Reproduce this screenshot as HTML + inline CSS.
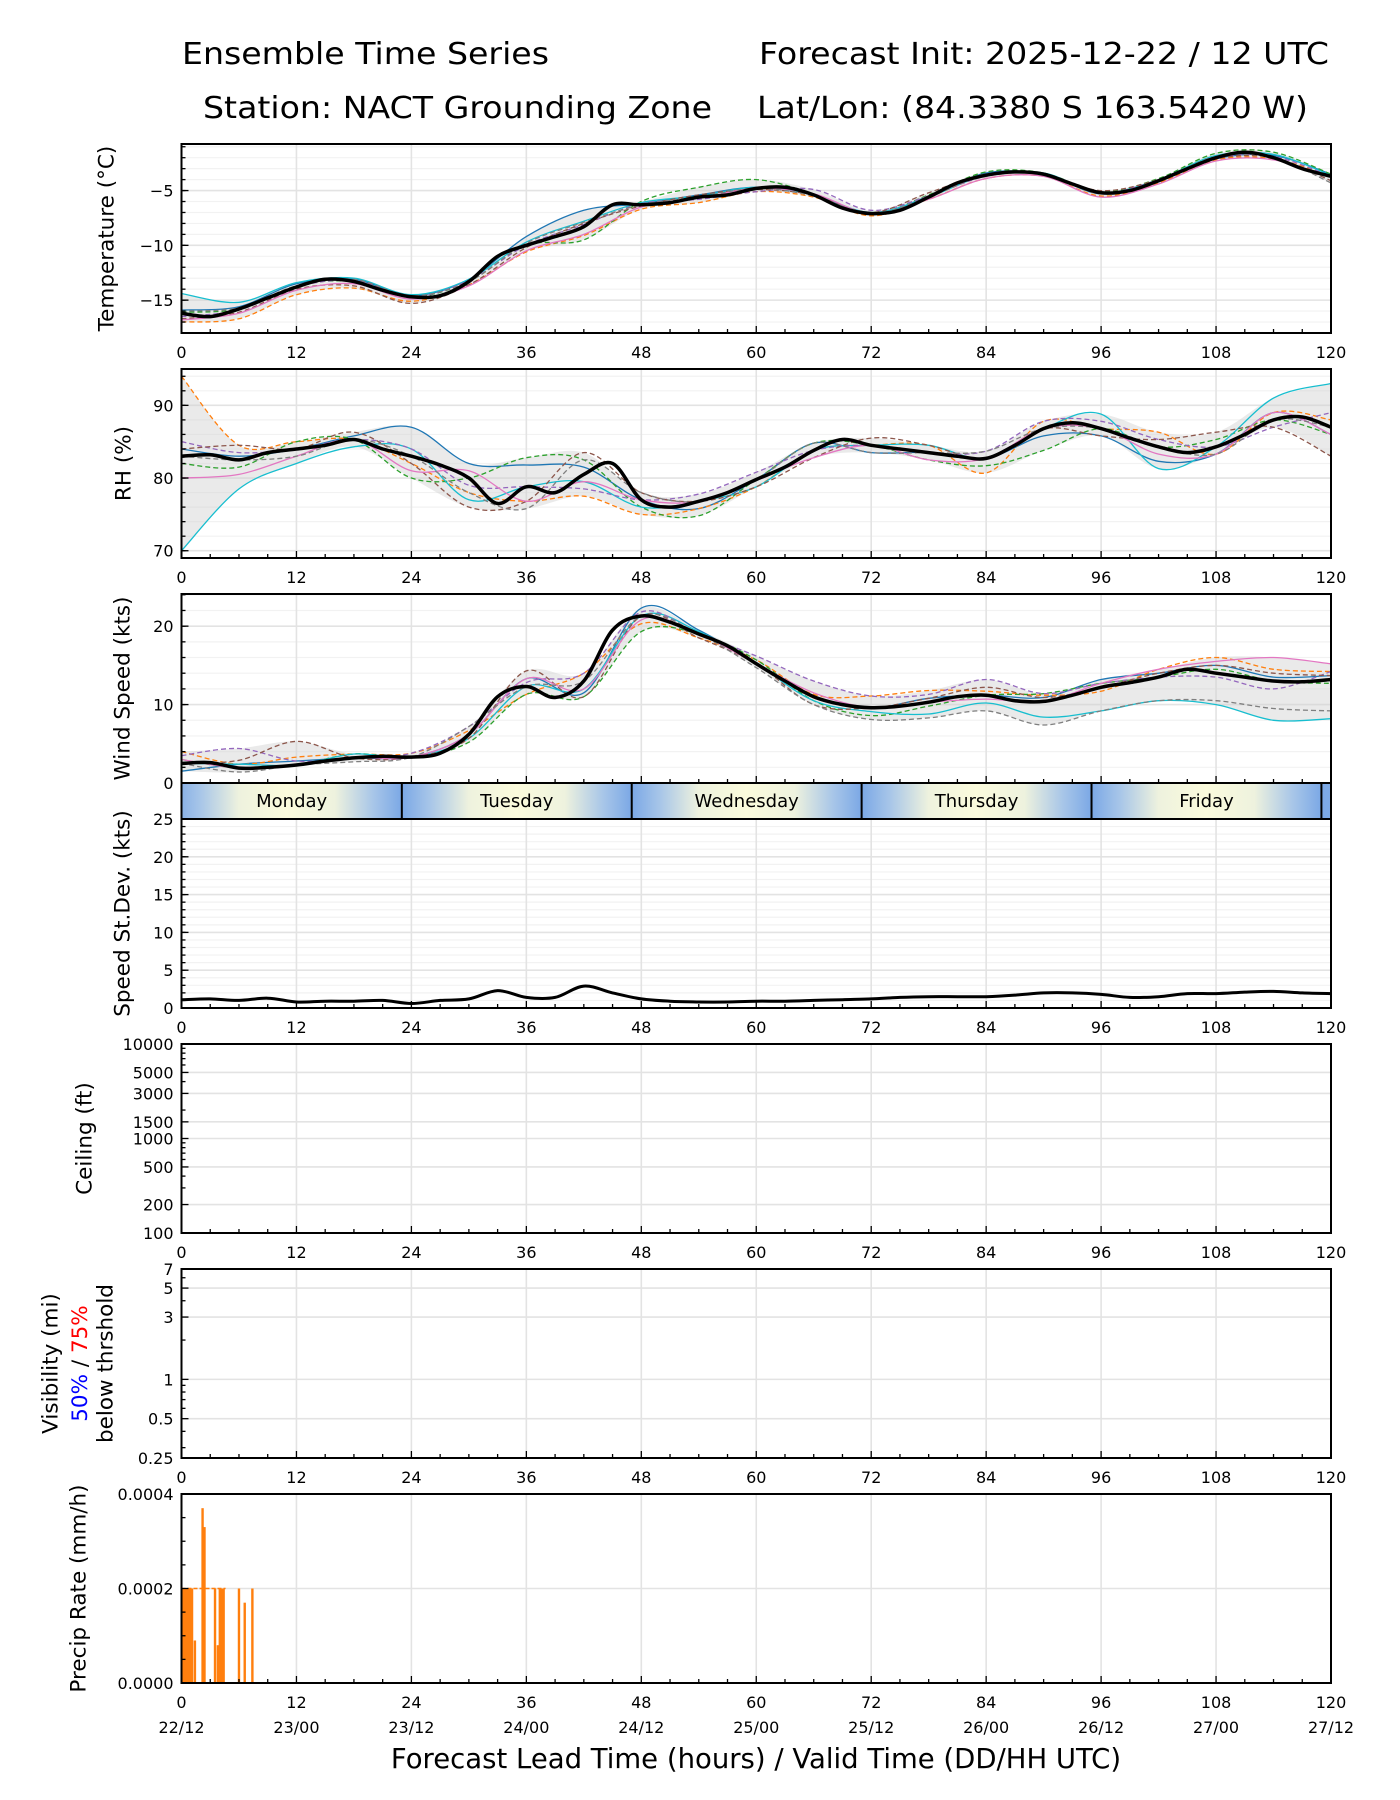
<!DOCTYPE html>
<html><head><meta charset="utf-8"><title>Ensemble Time Series</title>
<style>
html,body{margin:0;padding:0;background:#fff;}
svg{display:block;font-family:"DejaVu Sans","Liberation Sans",sans-serif;}
</style></head>
<body>
<svg id="chart" width="1400" height="1800" viewBox="0 0 1400 1800" xmlns="http://www.w3.org/2000/svg">
<text x="182" y="64" font-size="30" textLength="367" lengthAdjust="spacingAndGlyphs">Ensemble Time Series</text>
<text x="759" y="64" font-size="30" textLength="570" lengthAdjust="spacingAndGlyphs">Forecast Init: 2025-12-22 / 12 UTC</text>
<text x="203" y="118" font-size="30" textLength="509" lengthAdjust="spacingAndGlyphs">Station: NACT Grounding Zone</text>
<text x="757" y="118" font-size="30" textLength="551" lengthAdjust="spacingAndGlyphs">Lat/Lon: (84.3380 S 163.5420 W)</text>
<text x="756" y="1768" font-size="27.5" text-anchor="middle">Forecast Lead Time (hours) / Valid Time (DD/HH UTC)</text>
</svg>
<script>
// ---------- data ----------
const hours3 = [0,3,6,9,12,15,18,21,24,27,30,33,36,39,42,45,48,51,54,57,60,63,66,69,72,75,78,81,84,87,90,93,96,99,102,105,108,111,114,117,120];
const hours6 = [0,6,12,18,24,30,36,42,48,54,60,66,72,78,84,90,96,102,108,114,120];
const tempMean = [-16.2,-16.5,-15.8,-14.8,-13.8,-13.1,-13.3,-14.1,-14.7,-14.6,-13.3,-11,-10,-9.2,-8.3,-6.3,-6.3,-6.1,-5.6,-5.4,-4.8,-4.7,-5.4,-6.6,-7.1,-6.8,-5.6,-4.3,-3.6,-3.3,-3.5,-4.4,-5.2,-5.0,-4.1,-3.0,-2.0,-1.5,-2.0,-3.0,-3.7];
const rhMean = [83,83.2,82.5,83.5,84,84.5,85.3,84,83,81.8,80,76.5,78.8,78,80.5,82,77,76,76.8,78,79.8,81.5,83.8,85.3,84.5,84,83.5,83,82.7,84.5,86.8,87.6,86.8,85.5,84.3,83.5,84.3,86,88,88.4,87];
const windMean = [2.5,2.6,1.9,2.0,2.3,2.8,3.2,3.4,3.3,3.8,6.2,11,12.3,10.9,13,19.5,21.3,20.5,19,17.5,15.2,13,11,10,9.6,9.8,10.3,11,11.2,10.5,10.4,11.2,12.2,12.8,13.5,14.5,14,13.5,13,12.9,13.2];
const sdMean = [1.1,1.2,1.0,1.3,0.8,0.9,0.9,1.0,0.6,1.0,1.2,2.3,1.4,1.4,2.9,2.0,1.2,0.9,0.8,0.8,0.9,0.9,1.0,1.1,1.2,1.4,1.5,1.5,1.5,1.7,2.0,2.0,1.8,1.4,1.5,1.9,1.9,2.1,2.2,2.0,1.9];
const memberColors = ["#1f77b4","#ff7f0e","#2ca02c","#17becf","#9467bd","#8c564b","#e377c2","#7f7f7f"];
const tempDev1 = [0.3,0.2,0.3,0.2,0.1,0.2,0.8,1.5,0.1,0.2,0.1,0.0,-0.1,0.1,0.2,0.0,-0.1,0,-0.1,0.2,0.2];
const tempDev2 = [-0.8,-0.9,-0.7,-0.6,-0.4,-0.3,-0.6,-0.8,-0.4,-0.5,-0.3,-0.2,-0.2,-0.2,-0.3,-0.2,-0.3,-0.2,-0.2,-0.1,0];
const tempDev3 = [0.1,0,0.1,0,0,0,0,-1.2,0.3,0.9,0.8,0.1,0,0.2,0.3,0.1,0.1,0.2,0.4,0.5,0.2];
const tempDev4 = [1.8,0.6,0.4,0.3,0.2,0.2,0.3,0.5,0.2,0.1,0.1,0,0.1,0,0,0.1,0,0.1,0.2,0.3,0.1];
const tempDev5 = [-0.3,-0.1,0,0.1,0,0.1,0,0.2,0.1,-0.2,-0.3,0.5,0.3,0.1,-0.1,0,0,0.1,0,0.1,0];
const tempDev6 = [-0.5,-0.3,-0.2,-0.4,-0.6,-0.3,-0.2,0.3,-0.1,0.2,-0.1,0,0.1,0.4,0.1,0,0.2,0.1,-0.1,0,-0.4];
const tempDev7 = [-0.6,-0.4,-0.3,-0.2,-0.2,-0.4,-0.5,-0.7,-0.2,-0.1,0,0.1,0,-0.2,-0.3,-0.2,-0.4,-0.3,-0.3,-0.2,-0.1];
const tempDev8 = [0.2,0.1,0.1,0.2,0.1,0,0.2,0.4,0,0,0,-0.1,0,0,0,0,-0.1,0,0.1,0,-0.6];
const rhDev1 = [1,0.5,0,0.5,4,2,3,1,0,-1,0,1,-1,0,0,-1,-1,-2,-1,1,-1];
const rhDev2 = [11,2,1,0,-1,-2,-2,-3,-2,-1,-1,0,0,1,-2,1,0,2,-1,1,1];
const rhDev3 = [-1,-1,1,0,-3,0,4,2,-1,-2,0,1,0,-1,-1,-3,0,0,1,0,-1];
const rhDev4 = [-13,-4,-2,-1,1,-3,0,-1,-1,0,-1,0,0,1,0,0,2,-3,0,3,6];
const rhDev5 = [2,1,0,0,1,-1,0,-2,0,1,1,0,0,0,1,1,1,1,0,-1,2];
const rhDev6 = [1,2,0,1,-1,-4,-2,3,1,0,-1,-1,1,1,0,0,-1,1,2,-1,-4];
const rhDev7 = [-3,-2,-1,0,-2,1,-2,-1,0,0,0,-1,0,-1,0,0,0,-1,-1,1,-1];
const rhDev8 = [0,0,-1,0,0,-2,-3,2,1,0,0,1,-1,0,1,0,0,0,-1,0,0];
const windDev1 = [-1,0.5,0.5,0,0,0,1,-1.5,1,0.5,0,0,0,0.5,0,0.5,1,0.5,1,0.5,0.5];
const windDev2 = [1.5,0.5,1,0.5,0.5,0.5,-1,1,-1,-0.5,0.5,0.3,1.5,1.5,0.5,0.8,-0.5,1,2,1.5,1];
const windDev3 = [0.5,0,0,0.5,0,-1,-1,-2,-2,0,0.5,-0.5,-1,-0.5,0,1,0.5,0,0.5,0,-0.5];
const windDev4 = [0,0.5,0,0.5,0,-0.5,0,-1,0,0.3,0,-0.5,-0.5,-1.5,-1,-2,-3,-3,-4,-5,-5];
const windDev5 = [1,2.5,0.5,0,0.5,1,0.5,1,0.5,0,1,2,1.5,1,2,1,0.5,0,-0.5,-1,1];
const windDev6 = [0,1,3,0,0,-0.5,2,-2,0,-0.5,0,-1,0,0.5,1,0.5,0,0.5,1,1,0.5];
const windDev7 = [0.5,0,0,0,0,0,1,-1,-0.5,0,0,0.5,0,0,-0.5,0,0.5,1,1.5,3,2];
const windDev8 = [0,-0.5,0,-0.5,0,1,0,0,0,0,-0.5,-1,-1.5,-2,-2,-3,-3,-3,-3.5,-3.5,-4];
const precipHours = [0.1,0.3,0.5,0.7,0.9,1.1,1.4,2.2,2.4,3.5,3.8,4.0,4.2,4.4,6.0,6.6,7.4];
const precipVals = [0.0002,0.0002,0.0002,0.0002,0.0002,0.0002,0.00009,0.00037,0.00033,0.0002,0.00008,0.0002,0.0002,0.0002,0.0002,0.00017,0.0002];
const xTicks = [0,12,24,36,48,60,72,84,96,108,120];
const dateLabels = ["22/12","23/00","23/12","24/00","24/12","25/00","25/12","26/00","26/12","27/00","27/12"];
const dayNames = ["Monday","Tuesday","Wednesday","Thursday","Friday"];
const dayStarts = [0,23,47,71,95];
const dayEnds = [23,47,71,95,119];

// ---------- helpers ----------
const NS="http://www.w3.org/2000/svg";
const svg=document.getElementById("chart");
const X0=181.5, X1=1331;
function xs(h){return X0+(h/120)*(X1-X0);}
function el(tag,attrs,parent){const e=document.createElementNS(NS,tag);for(const k in attrs)e.setAttribute(k,attrs[k]);(parent||svg).appendChild(e);return e;}
function txt(s,attrs,parent){const e=el("text",attrs,parent);e.textContent=s;return e;}
function smooth(pts){
  let d="M"+pts[0][0].toFixed(1)+","+pts[0][1].toFixed(1);
  for(let i=0;i<pts.length-1;i++){
    const p0=pts[Math.max(0,i-1)],p1=pts[i],p2=pts[i+1],p3=pts[Math.min(pts.length-1,i+2)];
    const c1=[p1[0]+(p2[0]-p0[0])/6,p1[1]+(p2[1]-p0[1])/6];
    const c2=[p2[0]-(p3[0]-p1[0])/6,p2[1]-(p3[1]-p1[1])/6];
    d+="C"+c1[0].toFixed(1)+","+c1[1].toFixed(1)+" "+c2[0].toFixed(1)+","+c2[1].toFixed(1)+" "+p2[0].toFixed(1)+","+p2[1].toFixed(1);
  }
  return d;
}
let clipId=0;
function panel(cfg){
  const top=cfg.top, H=189, bot=top+H;
  const g=el("g",{});
  
  
  const ys = cfg.log ? (v)=>bot-(Math.log(v)-Math.log(cfg.ymin))/(Math.log(cfg.ymax)-Math.log(cfg.ymin))*H
                     : (v)=>bot-(v-cfg.ymin)/(cfg.ymax-cfg.ymin)*H;
  (cfg.minor||[]).forEach(v=>{ if(v>cfg.ymin&&v<cfg.ymax){
    const l=el("line",{x1:X0,x2:X1,y1:ys(v),y2:ys(v),stroke:"#f2f2f2","stroke-width":1.2},g);
    
    
  }});
  cfg.yTicks.forEach(v=>{
    const l=el("line",{x1:X0,x2:X1,y1:ys(v),y2:ys(v),stroke:"#e3e3e3","stroke-width":1.6},g);
    
    
  });
  xTicks.forEach(h=>{
    const l=el("line",{x1:xs(h),x2:xs(h),y1:top,y2:bot,stroke:"#e3e3e3","stroke-width":1.6},g);
    
    
  });
  const cid="clip"+(clipId++);
  const cp=el("clipPath",{id:cid},g); el("rect",{x:X0,y:top,width:X1-X0,height:H},cp);
  const plot=el("g",{"clip-path":"url(#"+cid+")"},g);
  
  
  if(cfg.draw) cfg.draw(plot,ys);
  const fr=el("rect",{x:X0,y:top,width:X1-X0,height:H,fill:"none",stroke:"#000","stroke-width":2},g);
  
  
  for(let h=0;h<=120;h+=3){
    const major=h%12===0;
    el("line",{x1:xs(h),x2:xs(h),y1:bot,y2:bot-(major?7:4),stroke:"#000","stroke-width":1.3},g);
  }
  if(!cfg.noXLabels) xTicks.forEach((h,i)=>{
    const t=txt(String(h),{x:xs(h),y:bot+25,"font-size":16,"text-anchor":"middle"},g);
    
    
    if(cfg.dates){
      const d=txt(dateLabels[i],{x:xs(h),y:bot+50,"font-size":16,"text-anchor":"middle"},g);
      
      
    }
  });
  (cfg.minorTicks||cfg.minor||[]).forEach(v=>{ if(v>cfg.ymin&&v<cfg.ymax) el("line",{x1:X0,x2:X0+4,y1:ys(v),y2:ys(v),stroke:"#000","stroke-width":1.3},g);});
  cfg.yTicks.forEach((v,i)=>{
    el("line",{x1:X0,x2:X0+7,y1:ys(v),y2:ys(v),stroke:"#000","stroke-width":1.3},g);
    const t=txt(cfg.yLabels[i],{x:X0-8,y:ys(v)+6,"font-size":16,"text-anchor":"end"},g);
    
    
  });
  if(cfg.ylabel){
    const cy=top+H/2;
    const t=txt(cfg.ylabel,{x:cfg.lx,y:cy,"font-size":21.5,"text-anchor":"middle","dominant-baseline":"central",transform:"rotate(-90 "+cfg.lx+" "+cy+")"},g);
    
    
  }
  return {g,ys,top,bot};
}
function drawMembers(plot,ys,mean,devs){
  devs.forEach((dv,m)=>{
    const pts=hours6.map((h,i)=>[xs(h),ys(mean[i*2]+dv[i])]);
    const p=el("path",{d:smooth(pts),fill:"none",stroke:memberColors[m],"stroke-width":1.3,"stroke-dasharray":(m%3===0)?"none":"5,3"},plot);
    
    
  });
}
function drawMean(plot,ys,mean){
  const pts=hours3.map((h,i)=>[xs(h),ys(mean[i])]);
  const p=el("path",{d:smooth(pts),fill:"none",stroke:"#000","stroke-width":3.5,"stroke-linejoin":"round"},plot);
  
  
}
function drawBand(plot,ys,mean,devs){
  const up=hours6.map((h,i)=>[xs(h),ys(mean[i*2]+Math.max(...devs.map(d=>d[i])))]);
  const lo=hours6.map((h,i)=>[xs(h),ys(mean[i*2]+Math.min(...devs.map(d=>d[i])))]).reverse();
  const d=smooth(up)+"L"+smooth(lo).slice(1)+"Z";
  const p=el("path",{d:d,fill:"#d0d0d0","fill-opacity":0.45,stroke:"none"},plot);
  
  
}
function range(a,b,s){const r=[];for(let v=a;v<=b+1e-9;v+=s)r.push(+v.toFixed(4));return r;}

const tempDevs=[tempDev1,tempDev2,tempDev3,tempDev4,tempDev5,tempDev6,tempDev7,tempDev8];
const rhDevs=[rhDev1,rhDev2,rhDev3,rhDev4,rhDev5,rhDev6,rhDev7,rhDev8];
const windDevs=[windDev1,windDev2,windDev3,windDev4,windDev5,windDev6,windDev7,windDev8];

panel({name:"temperature",top:144,ymin:-18,ymax:-0.75,yTicks:[-15,-10,-5],yLabels:["\u221215","\u221210","\u22125"],minor:range(-18,-1,1),ylabel:"Temperature (\u00b0C)",lx:107,
  draw:(p,ys)=>{drawBand(p,ys,tempMean,tempDevs);drawMembers(p,ys,tempMean,tempDevs);drawMean(p,ys,tempMean);}});
panel({name:"rh",top:369,ymin:69,ymax:95,yTicks:[70,80,90],yLabels:["70","80","90"],minor:range(70,94,2),ylabel:"RH (%)",lx:124,
  draw:(p,ys)=>{drawBand(p,ys,rhMean,rhDevs);drawMembers(p,ys,rhMean,rhDevs);drawMean(p,ys,rhMean);}});
panel({name:"wind-speed",top:594,ymin:0,ymax:24.1,yTicks:[0,10,20],yLabels:["0","10","20"],minor:range(2,24,2),ylabel:"Wind Speed (kts)",lx:123,noXLabels:true,
  draw:(p,ys)=>{drawBand(p,ys,windMean,windDevs);drawMembers(p,ys,windMean,windDevs);drawMean(p,ys,windMean);}});
panel({name:"speed-stdev",top:819,ymin:0,ymax:25,yTicks:[0,5,10,15,20,25],yLabels:["0","5","10","15","20","25"],minor:range(1,24,1),ylabel:"Speed St.Dev. (kts)",lx:123,
  draw:(p,ys)=>{const pts=hours3.map((h,i)=>[xs(h),ys(sdMean[i])]);
    const l=el("path",{d:smooth(pts),fill:"none",stroke:"#000","stroke-width":3,"stroke-linejoin":"round"},p);
    
    }});
panel({name:"ceiling",top:1044,ymin:100,ymax:10000,log:true,yTicks:[100,200,500,1000,1500,3000,5000,10000],yLabels:["100","200","500","1000","1500","3000","5000","10000"],minor:[],minorTicks:[300,400,600,700,800,900,2000,4000,6000,7000,8000,9000],ylabel:"Ceiling (ft)",lx:85});
panel({name:"visibility",top:1269,ymin:0.25,ymax:7,log:true,yTicks:[0.25,0.5,1,3,5,7],yLabels:["0.25","0.5","1","3","5","7"],minor:[],minorTicks:[0.3,0.4,0.6,0.7,0.8,0.9,2,4,6]});
panel({name:"precip-rate",top:1494,ymin:0,ymax:0.0004,yTicks:[0,0.0002,0.0004],yLabels:["0.0000","0.0002","0.0004"],minor:[],minorTicks:[0.00005,0.0001,0.00015,0.00025,0.0003,0.00035],ylabel:"Precip Rate (mm/h)",lx:79,dates:true,
  draw:(p,ys)=>{
    precipHours.forEach((h,i)=>{
      const r=el("rect",{x:xs(h)-1.2,y:ys(precipVals[i]),width:2.4,height:ys(0)-ys(precipVals[i]),fill:"#ff7f0e"},p);
      
      
    });
    const b=el("rect",{x:xs(0),y:ys(0.0002),width:xs(1.2)-xs(0),height:ys(0)-ys(0.0002),fill:"#ff7f0e"},p);
    
    
    const ln=el("line",{x1:xs(0),x2:xs(4.6),y1:ys(0.0002),y2:ys(0.0002),stroke:"#ff7f0e","stroke-width":1.5,"stroke-dasharray":"4,2"},p);
    
    
  }});
(function(){
  const cy=1269+94.5;
  const a=txt("Visibility (mi)",{x:51,y:cy,"font-size":21.5,"text-anchor":"middle","dominant-baseline":"central",transform:"rotate(-90 51 "+cy+")"});
  
  
  const b=el("text",{x:80,y:cy,"font-size":21.5,"text-anchor":"middle","dominant-baseline":"central",transform:"rotate(-90 80 "+cy+")"});
  
  
  const s1=el("tspan",{fill:"#0000ff"},b); s1.textContent="50%";
  const s2=el("tspan",{fill:"#000"},b); s2.textContent=" / ";
  const s3=el("tspan",{fill:"#ff0000"},b); s3.textContent="75%";
  const c=txt("below thrshold",{x:106,y:cy,"font-size":21.5,"text-anchor":"middle","dominant-baseline":"central",transform:"rotate(-90 106 "+cy+")"});
  
  
})();
(function(){
  const top=783,H=36;
  const defs=el("defs",{});
  const gr=el("linearGradient",{id:"dayGrad",gradientUnits:"userSpaceOnUse",x1:xs(-1),x2:xs(121),y1:0,y2:0},defs);
  const span=122;
  const stops=[];
  for(let k=0;k<=5;k++){
    const mid=-1+24*k;
    [[mid,"#7ba8e6"],[mid+3,"#a8c6e8"],[mid+7,"#eef2de"],[mid+12,"#fbfbdc"],[mid+17,"#eef2de"],[mid+21,"#a8c6e8"]].forEach(s=>{ if(s[0]<=121) stops.push(s);});
  }
  stops.push([121,"#7fabe6"]);
  stops.forEach(s=>el("stop",{offset:((s[0]+1)/span).toFixed(4),"stop-color":s[1]},gr));
  const r=el("rect",{x:X0,y:top,width:X1-X0,height:H,fill:"url(#dayGrad)",stroke:"#000","stroke-width":2});
  
  
  dayNames.forEach((n,i)=>{
    const l=el("line",{x1:xs(dayEnds[i]),x2:xs(dayEnds[i]),y1:top,y2:top+H,stroke:"#000","stroke-width":2});
    
    
    const t=txt(n,{x:(xs(dayStarts[i])+xs(dayEnds[i]))/2,y:top+24,"font-size":18,"text-anchor":"middle"});
    
    
  });
})();
</script>
</body></html>
